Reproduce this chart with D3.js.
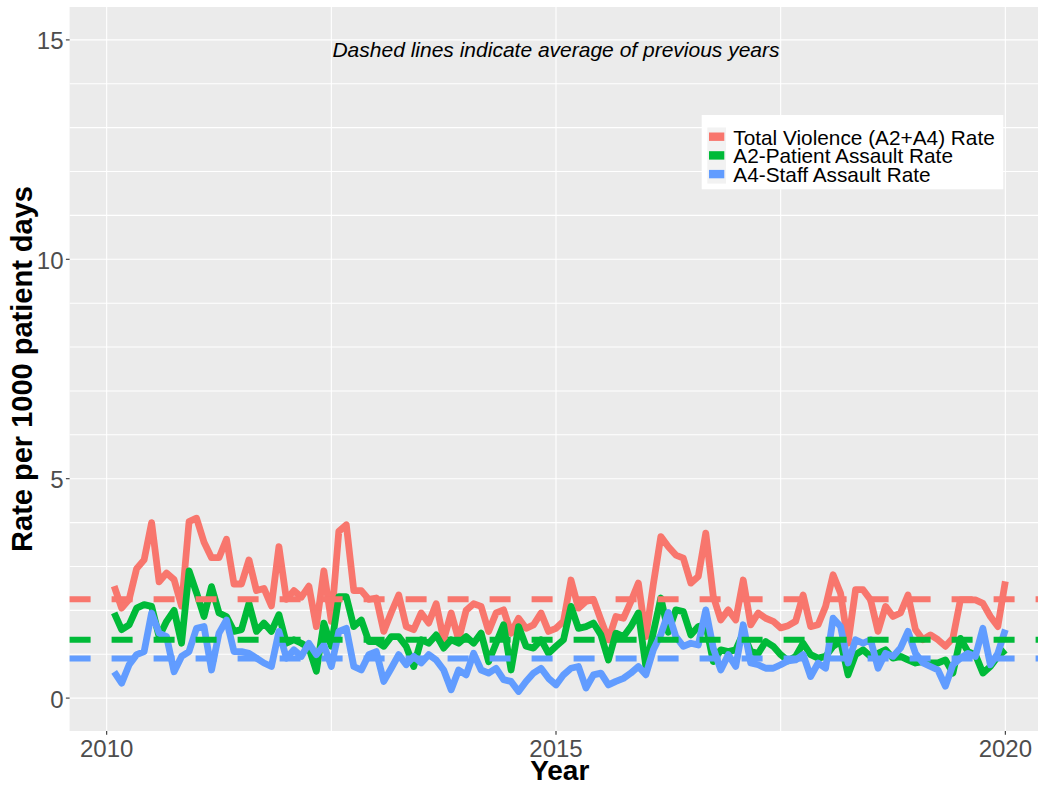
<!DOCTYPE html>
<html><head><meta charset="utf-8">
<script src="https://cdn.jsdelivr.net/npm/d3@7"></script>
<style>body{margin:0;background:#fff}svg{display:block}text{font-family:"Liberation Sans",Arial,sans-serif}</style>
</head><body><svg id="c" width="1038" height="786"></svg>
<script>
const startYear = 2010; // monthly observations, Jan 2010 .. Dec 2019
const totalRate = [2.55,2.05,2.25,2.95,3.15,4.0,2.65,2.85,2.7,2.1,4.02,4.1,
3.55,3.2,3.2,3.62,2.6,2.6,3.15,2.45,2.5,2.1,3.45,2.25,
2.45,2.3,2.55,1.63,2.9,1.75,3.8,3.95,2.45,2.45,2.25,2.28,
1.52,1.95,2.35,1.63,1.56,1.94,1.71,2.15,1.33,1.94,1.33,2.0,
2.15,2.09,1.52,1.94,2.01,1.48,1.82,1.59,1.67,1.94,1.52,1.59,
1.75,2.69,2.05,2.2,2.25,1.78,1.33,1.86,1.82,2.2,2.62,1.4,
2.6,3.68,3.45,3.26,3.19,2.62,2.77,3.76,2.32,1.78,2.01,1.78,
2.69,1.67,1.94,1.82,1.75,1.6,1.65,1.75,2.35,1.63,1.67,2.09,
2.81,2.39,1.25,2.47,2.47,2.24,1.52,2.09,1.86,1.94,2.35,1.56,
1.33,1.44,1.33,1.18,1.37,2.24,2.24,2.24,2.16,1.86,1.63,2.66];
const a2Rate = [1.94,1.56,1.67,2.05,2.13,2.09,1.4,1.75,2.0,1.25,2.9,2.4,
1.86,2.54,1.94,1.86,1.52,1.56,2.16,1.52,1.71,1.52,1.9,1.25,
1.33,1.25,1.15,0.61,1.71,1.18,2.31,2.31,1.63,1.78,1.29,1.29,
1.18,1.4,1.4,1.18,0.72,1.33,1.25,1.44,1.14,1.33,1.25,1.4,
1.25,1.48,0.83,1.25,1.67,0.64,1.63,1.18,1.14,1.33,1.02,1.18,
1.33,2.09,1.59,1.63,1.71,1.44,0.87,1.48,1.4,1.63,1.94,0.72,
1.5,2.28,1.5,2.01,1.97,1.44,1.63,1.67,0.83,1.1,1.06,1.1,
1.48,1.06,1.02,1.29,1.18,0.99,0.85,0.95,1.25,0.99,0.91,0.95,
1.18,1.29,0.53,0.99,1.1,0.95,1.02,1.1,0.91,0.95,0.87,0.8,
0.83,0.8,0.8,0.87,0.57,1.36,1.06,0.99,0.57,0.72,0.95,1.1];
const a4Rate = [0.6,0.34,0.76,0.99,1.06,1.94,1.48,1.4,0.6,0.95,1.06,1.59,
1.63,0.64,1.48,1.78,1.06,1.06,1.02,0.91,0.8,0.72,1.52,0.91,
1.1,0.95,1.25,0.99,1.21,0.72,1.52,1.59,0.72,0.64,0.99,1.06,
0.38,0.68,0.99,0.76,0.95,0.8,0.99,0.87,0.64,0.19,0.64,0.53,
1.02,0.64,0.57,0.68,0.42,0.38,0.15,0.38,0.57,0.68,0.45,0.3,
0.53,0.68,0.72,0.23,0.53,0.57,0.3,0.38,0.45,0.57,0.72,0.53,
1.1,1.45,1.95,1.4,1.18,1.25,1.21,2.01,1.14,0.64,0.99,0.72,
1.67,0.8,0.76,0.68,0.68,0.76,0.85,0.87,0.99,0.49,0.8,0.68,
1.82,1.63,0.8,1.33,1.25,1.33,0.68,1.02,0.95,1.14,1.52,1.02,
0.8,0.72,0.64,0.27,0.76,0.91,1.02,0.95,1.59,0.76,1.02,1.56];
const averages = [2.25, 1.33, 0.9];
const seriesNames = ["Total Violence (A2+A4) Rate","A2-Patient Assault Rate","A4-Staff Assault Rate"];
const seriesColors = ["#F8766D","#00BA38","#619CFF"];
const xBreaks = [2010, 2015, 2020];
const xMinorBreaks = [2007.5, 2012.5, 2017.5, 2022.5];
const yBreaks = [0, 5, 10, 15];
const yMinorBreaks = [1,2,3,4,6,7,8,9,11,12,13,14];
const xTitle = "Year", yTitle = "Rate per 1000 patient days";
const note = "Dashed lines indicate average of previous years";

const svg = d3.select("#c");
const P = {l:69.6, r:1049.9, t:7, b:731};
const dates = totalRate.map((_, i) => startYear + (i + 1) / 12);
const ext = d3.extent(dates), pad = (ext[1]-ext[0])*0.05;
const x = d3.scaleLinear().domain([ext[0]-pad, ext[1]+pad]).range([P.l, P.r]);
const y = d3.scaleLinear().domain([-0.75, 15.75]).range([P.b, P.t]);

svg.append("rect").attr("x",P.l).attr("y",P.t).attr("width",P.r-P.l).attr("height",P.b-P.t).attr("fill","#EBEBEB");
const grid = svg.append("g").attr("stroke","#fff").attr("fill","none");
yMinorBreaks.concat(yBreaks).forEach(v => grid.append("line").attr("x1",P.l).attr("x2",P.r).attr("y1",y(v)).attr("y2",y(v)).attr("stroke-width",1.1));
xMinorBreaks.concat(xBreaks).filter(v => x(v) >= P.l && x(v) <= P.r).forEach(v => grid.append("line").attr("y1",P.t).attr("y2",P.b).attr("x1",x(v)).attr("x2",x(v)).attr("stroke-width",1.1));

const series = [totalRate, a2Rate, a4Rate];
const line = d3.line().x((d,i) => x(dates[i])).y(d => y(d));
series.forEach((s, k) => {
  svg.append("path").datum(s).attr("d", line).attr("fill","none")
    .attr("stroke", seriesColors[k]).attr("stroke-width", 6.8)
    .attr("stroke-linejoin","round").attr("stroke-linecap","butt");
});
averages.forEach((a, k) => {
  svg.append("line").attr("x1",P.l).attr("x2",P.r).attr("y1",y(a)).attr("y2",y(a))
    .attr("stroke", seriesColors[k]).attr("stroke-width", 6).attr("stroke-dasharray","21 21");
});

svg.append("text").attr("x", x(2015)).attr("y", 56.5).attr("text-anchor","middle")
  .attr("font-style","italic").attr("font-size",21).attr("fill","#000").text(note);

// axes
const xa = svg.append("g");
xBreaks.forEach(v => {
  xa.append("line").attr("x1",x(v)).attr("x2",x(v)).attr("y1",P.b).attr("y2",P.b+3.7).attr("stroke","#333").attr("stroke-width",1.1);
  xa.append("text").attr("x",x(v)).attr("y",756.5).attr("text-anchor","middle").attr("font-size",24).attr("fill","#4D4D4D").text(v);
});
const ya = svg.append("g");
yBreaks.forEach(v => {
  ya.append("line").attr("x1",P.l-3.7).attr("x2",P.l).attr("y1",y(v)).attr("y2",y(v)).attr("stroke","#333").attr("stroke-width",1.1);
  ya.append("text").attr("x",63.5).attr("y",y(v)+9.5).attr("text-anchor","end").attr("font-size",24).attr("fill","#4D4D4D").text(v);
});
svg.append("text").attr("x",(P.l+P.r)/2).attr("y",780).attr("text-anchor","middle").attr("font-size",28).attr("font-weight","bold").attr("fill","#000").text(xTitle);
svg.append("text").attr("transform",`translate(32,${(P.t+P.b)/2}) rotate(-90)`).attr("text-anchor","middle").attr("font-size",29).attr("font-weight","bold").attr("fill","#000").text(yTitle);

// legend
const lg = svg.append("g");
lg.append("rect").attr("x",701.7).attr("y",115).attr("width",301.6).attr("height",74.3).attr("fill","#fff");
lg.append("rect").attr("x",707.3).attr("y",127.5).attr("width",18.7).attr("height",56.1).attr("fill","#F2F2F2");
seriesNames.forEach((n, k) => {
  const cy = 136.7 + k*18.7;
  lg.append("rect").attr("x",709).attr("y",cy-4.2).attr("width",15.3).attr("height",8.4).attr("fill",seriesColors[k]);
  lg.append("text").attr("x",733.3).attr("y",cy+8).attr("font-size",20.8).attr("fill","#000").text(n);
});
</script></body></html>
